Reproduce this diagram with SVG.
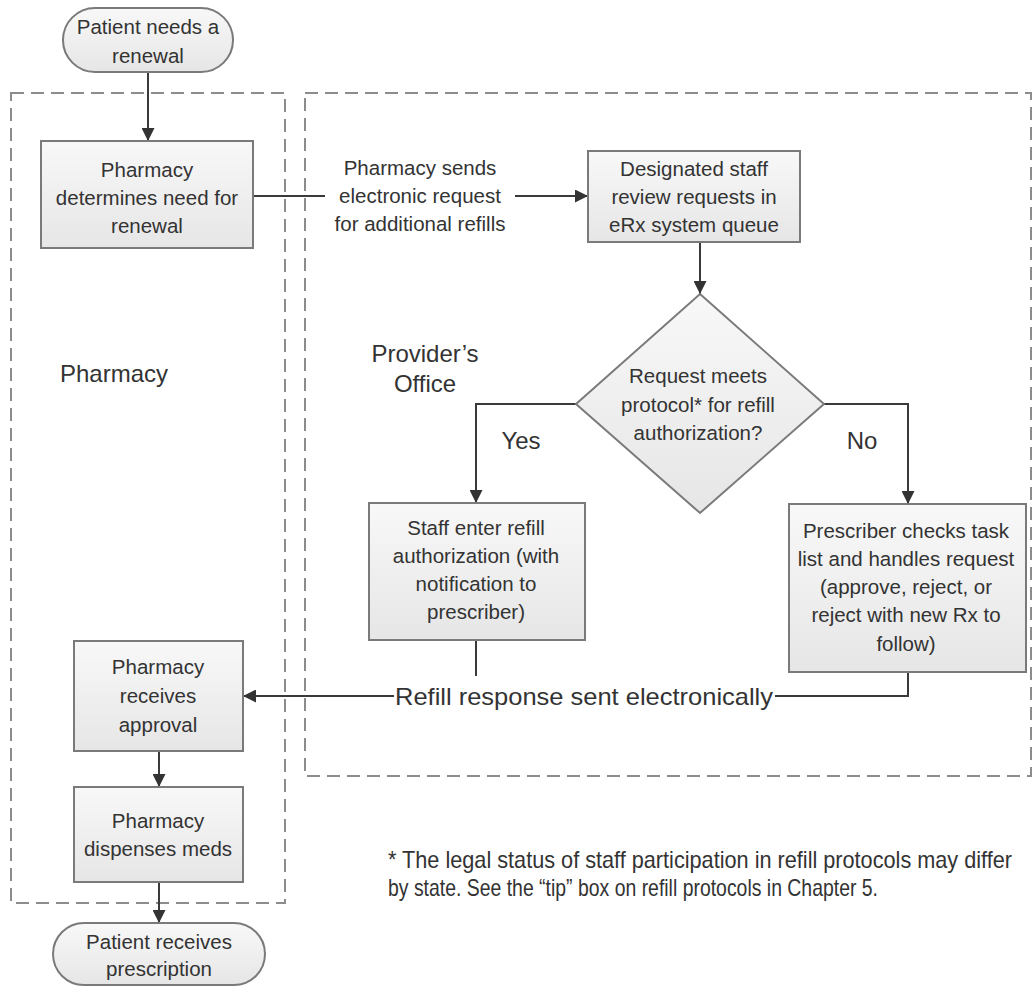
<svg xmlns="http://www.w3.org/2000/svg" width="1034" height="988" viewBox="0 0 1034 988">
<defs>
<linearGradient id="g" x1="0" y1="0" x2="0" y2="1"><stop offset="0" stop-color="#f8f8f8"/><stop offset="1" stop-color="#e6e6e6"/></linearGradient>
<marker id="ah" viewBox="0 0 10 10" refX="10" refY="5" markerWidth="13" markerHeight="13" markerUnits="userSpaceOnUse" orient="auto"><path d="M0,0 L10,5 L0,10 z" fill="#333"/></marker>
<style>
.box{fill:url(#g);stroke:#7a7a7a;stroke-width:2}
.t{font-family:"Liberation Sans",Arial,sans-serif;font-size:20.5px;fill:#333;text-anchor:middle}
.lbl{font-family:"Liberation Sans",Arial,sans-serif;font-size:24px;fill:#333}
.ln{fill:none;stroke:#3a3a3a;stroke-width:2}
.dash{fill:none;stroke:#8c8c8c;stroke-width:2;stroke-dasharray:13 7}
</style>
</defs>
<rect width="1034" height="988" fill="#fff"/>
<g id="lanes">
<rect class="dash" x="11" y="93" width="274" height="810"/>
<rect class="dash" x="305" y="93" width="726" height="683"/>
</g>
<g id="connectors">
<line class="ln" x1="148" y1="72" x2="148" y2="141" marker-end="url(#ah)"/>
<line class="ln" x1="253" y1="196" x2="325" y2="196"/>
<line class="ln" x1="515" y1="196" x2="588" y2="196" marker-end="url(#ah)"/>
<line class="ln" x1="700" y1="242" x2="700" y2="294" marker-end="url(#ah)"/>
<polyline class="ln" points="576,404 476,404 476,503" marker-end="url(#ah)"/>
<polyline class="ln" points="824,404 908,404 908,504" marker-end="url(#ah)"/>
<line class="ln" x1="476" y1="640" x2="476" y2="676"/>
<polyline class="ln" points="908,672 908,696 775,696"/>
<line class="ln" x1="394" y1="696" x2="243" y2="696" marker-end="url(#ah)"/>
<line class="ln" x1="159" y1="751" x2="159" y2="787" marker-end="url(#ah)"/>
<line class="ln" x1="159" y1="882" x2="159" y2="923" marker-end="url(#ah)"/>
<text class="t" x="420" y="175">Pharmacy sends</text>
<text class="t" x="420" y="203">electronic request</text>
<text class="t" x="420" y="231">for additional refills</text>
<text class="lbl" x="521" y="449" text-anchor="middle">Yes</text>
<text class="lbl" x="862" y="449" text-anchor="middle">No</text>
<text class="lbl" x="584" y="705" text-anchor="middle" font-size="27" textLength="378" lengthAdjust="spacingAndGlyphs">Refill response sent electronically</text>
</g>
<g id="start">
<rect class="box" x="63" y="8" width="170" height="64" rx="32"/>
<text class="t" x="148" y="34">Patient needs a</text>
<text class="t" x="148" y="63">renewal</text>
</g>
<g id="determine">
<rect class="box" x="41" y="141" width="212" height="107"/>
<text class="t" x="147" y="177">Pharmacy</text>
<text class="t" x="147" y="205">determines need for</text>
<text class="t" x="147" y="233">renewal</text>
</g>
<g id="review">
<rect class="box" x="588" y="151" width="212" height="91"/>
<text class="t" x="694" y="176">Designated staff</text>
<text class="t" x="694" y="204">review requests in</text>
<text class="t" x="694" y="232">eRx system queue</text>
</g>
<g id="decision">
<polygon class="box" points="700,294 824,404 700,513 576,404"/>
<text class="t" x="698" y="383">Request meets</text>
<text class="t" x="698" y="412">protocol* for refill</text>
<text class="t" x="698" y="440">authorization?</text>
</g>
<g id="staff">
<rect class="box" x="369" y="503" width="216" height="137"/>
<text class="t" x="476" y="535">Staff enter refill</text>
<text class="t" x="476" y="563">authorization (with</text>
<text class="t" x="476" y="591">notification to</text>
<text class="t" x="476" y="619">prescriber)</text>
</g>
<g id="prescriber">
<rect class="box" x="789" y="504" width="237" height="168"/>
<text class="t" x="906" y="538">Prescriber checks task</text>
<text class="t" x="906" y="566">list and handles request</text>
<text class="t" x="906" y="594">(approve, reject, or</text>
<text class="t" x="906" y="622">reject with new Rx to</text>
<text class="t" x="906" y="651">follow)</text>
</g>
<g id="receives">
<rect class="box" x="74" y="641" width="169" height="110"/>
<text class="t" x="158" y="674">Pharmacy</text>
<text class="t" x="158" y="703">receives</text>
<text class="t" x="158" y="732">approval</text>
</g>
<g id="dispenses">
<rect class="box" x="74" y="787" width="169" height="95"/>
<text class="t" x="158" y="828">Pharmacy</text>
<text class="t" x="158" y="856">dispenses meds</text>
</g>
<g id="end">
<rect class="box" x="53" y="923" width="212" height="62" rx="31"/>
<text class="t" x="159" y="949">Patient receives</text>
<text class="t" x="159" y="976">prescription</text>
</g>
<g id="labels">
<text class="lbl" x="60" y="382">Pharmacy</text>
<text class="lbl" x="425" y="362" text-anchor="middle">Provider’s</text>
<text class="lbl" x="425" y="392" text-anchor="middle">Office</text>
<text class="lbl" x="388" y="868" font-size="17.5" textLength="624" lengthAdjust="spacingAndGlyphs">* The legal status of staff participation in refill protocols may differ</text>
<text class="lbl" x="388" y="896" font-size="17.5" textLength="490" lengthAdjust="spacingAndGlyphs">by state. See the “tip” box on refill protocols in Chapter 5.</text>
</g>
</svg>
